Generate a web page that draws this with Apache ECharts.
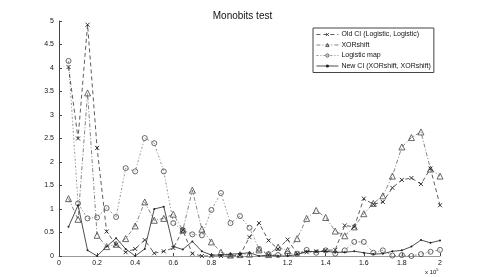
<!DOCTYPE html>
<html><head><meta charset="utf-8">
<script src="https://cdn.jsdelivr.net/npm/echarts@6/dist/echarts.min.js"></script>
<style>html,body{margin:0;padding:0;background:#fff}#c{width:485px;height:277px}</style>
</head><body><div id="c"></div>
<script>
const xs = [0.05,0.10,0.15,0.20,0.25,0.30,0.35,0.40,0.45,0.50,0.55,0.60,0.65,0.70,0.75,0.80,0.85,0.90,0.95,1.00,
            1.05,1.10,1.15,1.20,1.25,1.30,1.35,1.40,1.45,1.50,1.55,1.60,1.65,1.70,1.75,1.80,1.85,1.90,1.95,2.00];
const oldCI = [4.02,2.50,4.92,2.30,0.52,0.24,0.08,0.15,0.34,0.06,0.10,0.17,0.55,0.05,0.00,0.00,0.00,0.00,0.02,0.40,
               0.70,0.33,0.15,0.35,0.05,0.08,0.10,0.12,0.13,0.65,0.62,1.22,1.10,1.15,1.45,1.62,1.66,1.53,1.86,1.08];
const xorshift = [1.22,0.78,3.47,0.44,0.20,0.25,0.37,0.64,1.15,0.76,0.80,0.89,0.55,1.40,0.57,0.30,0.08,0.02,0.03,0.04,
                  0.13,0.03,0.19,0.12,0.37,0.80,0.97,0.82,0.53,0.43,0.62,0.90,1.12,1.28,1.70,2.32,2.52,2.64,1.85,1.70];
const logistic = [4.15,1.12,0.80,0.82,1.02,0.83,1.87,1.80,2.51,2.40,1.80,0.70,0.55,0.46,0.44,0.98,1.34,0.70,0.85,0.60,
                  0.15,0.04,0.02,0.05,0.05,0.13,0.07,0.12,0.05,0.12,0.30,0.30,0.07,0.12,0.01,0.02,0.00,0.04,0.09,0.13];
const newCI = [0.62,1.08,0.12,0.00,0.20,0.38,0.15,0.00,0.15,1.00,1.05,0.20,0.14,0.31,0.10,0.02,0.02,0.04,0.05,0.07,
               0.00,0.02,0.00,0.00,0.03,0.10,0.09,0.10,0.08,0.08,0.10,0.07,0.04,0.05,0.10,0.12,0.20,0.34,0.28,0.33];
const names = ['Old CI (Logistic, Logistic)','XORshift','Logistic map','New CI (XORshift, XORshift)'];
const pair = a => a.map((v,i)=>[xs[i],v]);
const FONT = 'Liberation Sans';
const hollow = {color:'transparent',borderColor:'#333',borderWidth:0.8};
const chart = echarts.init(document.getElementById('c'));
chart.setOption({
  animation:false,
  backgroundColor:'#fff',
  title:{text:'Monobits test',left:'center',top:6,textStyle:{fontFamily:FONT,fontSize:10,fontWeight:'normal',color:'#111'}},
  grid:{left:59,right:45,top:21,bottom:21},
  legend:{orient:'vertical',left:313,top:28,itemWidth:22,itemHeight:4,itemGap:3.5,padding:[3,3,3,3],
    backgroundColor:'#fff',borderColor:'#444',borderWidth:1,borderRadius:0,
    textStyle:{fontFamily:FONT,fontSize:7,color:'#111',padding:[0,0,0,-2]},
    data:[
      {name:names[0],itemStyle:hollow,lineStyle:{width:0.8}},
      {name:names[1],itemStyle:hollow,lineStyle:{width:0.8}},
      {name:names[2],itemStyle:hollow,lineStyle:{width:0.8}},
      {name:names[3],lineStyle:{width:0.8}}
    ]},
  xAxis:{type:'value',min:0,max:2,interval:0.2,
    axisLine:{lineStyle:{color:'#999',width:1}},
    axisTick:{inside:true,length:3,lineStyle:{color:'#444'}},
    axisLabel:{fontFamily:FONT,fontSize:7,color:'#111',margin:4},
    splitLine:{show:false}},
  yAxis:{type:'value',min:0,max:5,interval:0.5,
    axisLine:{show:true,lineStyle:{color:'#444',width:1}},
    axisTick:{show:true,inside:true,length:3,lineStyle:{color:'#444'}},
    axisLabel:{fontFamily:FONT,fontSize:7,color:'#111',margin:5},
    splitLine:{show:false}},
  graphic:[{type:'text',left:425,top:268,style:{text:'x 10{s|5}',fontFamily:FONT,fontSize:6,fill:'#111',
    rich:{s:{fontSize:4,verticalAlign:'top',padding:[0,0,4,0]}}}}],
  series:[
    {name:names[0],type:'line',data:pair(oldCI),symbol:'path://M0,0L10,10M10,0L0,10',symbolSize:4,
      lineStyle:{color:'#333',width:0.8,type:[4,3]},itemStyle:{color:'transparent',borderColor:'#222',borderWidth:0.9},z:4},
    {name:names[1],type:'line',data:pair(xorshift),symbol:'triangle',symbolSize:6,
      lineStyle:{color:'#666',width:0.8,type:[4,2,1,2]},itemStyle:{color:'transparent',borderColor:'#444',borderWidth:0.8},z:3},
    {name:names[2],type:'line',data:pair(logistic),symbol:'circle',symbolSize:5,
      lineStyle:{color:'#777',width:0.8,type:[2,2,1,2]},itemStyle:{color:'transparent',borderColor:'#444',borderWidth:0.8},z:2},
    {name:names[3],type:'line',data:pair(newCI),symbol:'circle',symbolSize:2,
      lineStyle:{color:'#222',width:0.8},itemStyle:{color:'#222'},z:5}
  ]
});
</script></body></html>
